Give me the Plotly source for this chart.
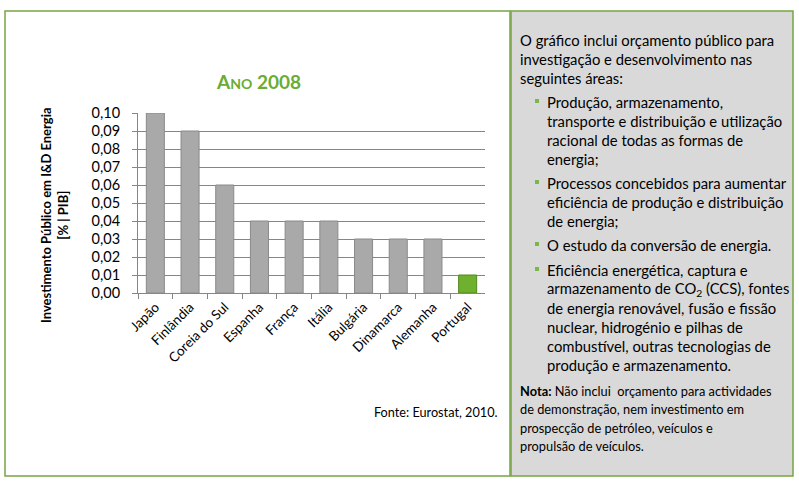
import plotly.graph_objects as go

W, H = 799, 482

paises = ["Japão", "Finlândia", "Coreia do Sul", "Espanha", "França", "Itália",
          "Bulgária", "Dinamarca", "Alemanha", "Portugal"]
investimento = [0.10, 0.09, 0.06, 0.04, 0.04, 0.04, 0.03, 0.03, 0.03, 0.01]
cores = ["#a9a9a9"] * 9 + ["#6fb12e"]
bordas = ["#8a8a8a"] * 9 + ["#4f8a1c"]
y_ticks = [0.00, 0.01, 0.02, 0.03, 0.04, 0.05, 0.06, 0.07, 0.08, 0.09, 0.10]

FONT = "Lato"
VERDE = "#77a544"


def px(x):
    return x / W


def py(y):
    return 1 - y / H


fig = go.Figure(go.Bar(
    x=paises, y=investimento,
    marker=dict(color=cores, line=dict(color=bordas, width=1)),
    width=0.52,
))

fig.update_layout(
    width=W, height=H,
    margin=dict(l=0, r=0, t=0, b=0, autoexpand=False),
    paper_bgcolor="white", plot_bgcolor="white",
    showlegend=False,
    separators=",.",
    font=dict(family=FONT, color="black"),
)

fig.update_xaxes(
    domain=[px(138), px(485)], automargin=False,
    showline=True, linecolor="#868686", linewidth=1,
    ticks="outside", tickson="boundaries", ticklen=5, tickcolor="#868686",
    tickangle=-45, tickfont=dict(size=13.5, family=FONT),
)
fig.update_yaxes(
    domain=[py(293), py(113)], automargin=False,
    range=[0, 0.10], tickvals=y_ticks, tickformat=".2f",
    showline=True, linecolor="#868686", linewidth=1,
    ticks="outside", ticklen=5, tickcolor="#868686", ticklabelstandoff=9,
    showgrid=True, gridcolor="#868686", gridwidth=1,
    tickfont=dict(size=14.5, family=FONT),
    zeroline=False,
)

shapes = [
    # caixa do gráfico
    dict(type="rect", xref="paper", yref="paper", x0=px(5), x1=px(510), y0=py(476), y1=py(11),
         line=dict(color=VERDE, width=1.5), layer="below"),
    # painel de texto
    dict(type="rect", xref="paper", yref="paper", x0=px(511), x1=px(793), y0=py(476), y1=py(11),
         fillcolor="#d9d9d9", line=dict(color=VERDE, width=1.5), layer="below"),
]

annotations = [
    dict(text="<b>A<span style='font-size:14px'>NO</span> 2008</b>", x=px(258), y=py(81),
         xanchor="center", font=dict(size=19, color="#6aac34", family=FONT)),
    dict(text="<b>Investimento Público em I&D Energia<br>[% | PIB]</b>", x=px(55), y=py(215),
         xanchor="center", textangle=-90, font=dict(size=13, family=FONT)),
    dict(text="Fonte: Eurostat, 2010.", x=px(500), y=py(412), xanchor="right",
         font=dict(size=12.7, family=FONT)),
]

linhas = [
    (518, 40, "O gráfico inclui orçamento público para"),
    (518, 59, "investigação e desenvolvimento nas"),
    (518, 78, "seguintes áreas:"),
    (545, 102, "Produção, armazenamento,"),
    (545, 121, "transporte e distribuição e utilização"),
    (545, 140, "racional de todas as formas de"),
    (545, 159, "energia;"),
    (545, 183, "Processos concebidos para aumentar"),
    (545, 202, "eficiência de produção e distribuição"),
    (545, 221, "de energia;"),
    (545, 245, "O estudo da conversão de energia."),
    (545, 270, "Eficiência energética, captura e"),
    (545, 289, "armazenamento de CO<sub>2</sub> (CCS), fontes"),
    (545, 308, "de energia renovável, fusão e fissão"),
    (545, 327, "nuclear, hidrogénio e pilhas de"),
    (545, 346, "combustível, outras tecnologias de"),
    (545, 365, "produção e armazenamento."),
]
for x, y, t in linhas:
    annotations.append(dict(text=t, x=px(x), y=py(y), xanchor="left",
                            font=dict(size=14.8, family=FONT)))

for y in [102, 183, 245, 270]:
    shapes.append(dict(type="rect", xref="paper", yref="paper",
                       x0=px(535), x1=px(539), y0=py(y + 1), y1=py(y - 3),
                       fillcolor="#7ab648", line=dict(width=0)))

nota = [
    (391, "<b>Nota:</b> Não inclui  orçamento para actividades"),
    (409, "de demonstração, nem investimento em"),
    (428, "prospecção de petróleo, veículos e"),
    (446, "propulsão de veículos."),
]
for y, t in nota:
    annotations.append(dict(text=t, x=px(518), y=py(y), xanchor="left",
                            font=dict(size=12.8, family=FONT)))

for a in annotations:
    a.setdefault("xref", "paper")
    a.setdefault("yref", "paper")
    a.setdefault("showarrow", False)
    a.setdefault("yanchor", "middle")

fig.update_layout(shapes=shapes, annotations=annotations)

# a página tem margem de 8px no body; retirar para o gráfico ocupar a janela
fig.write_html("out.html", config={"displayModeBar": False},
               post_script="document.body.style.margin='0px';")
